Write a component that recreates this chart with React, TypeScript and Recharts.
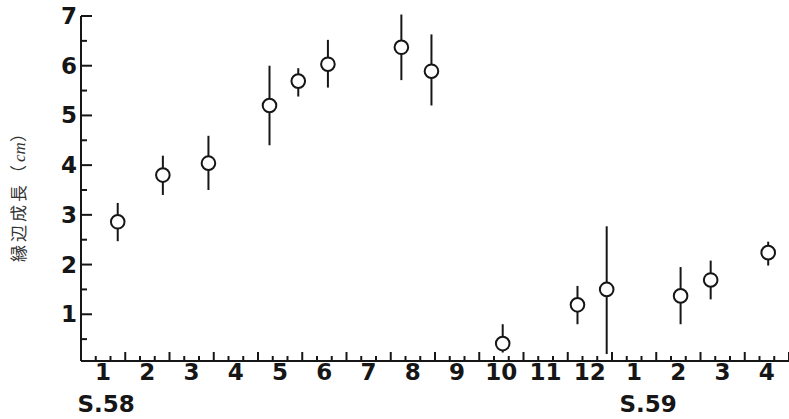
import React from 'react';
import { ScatterChart, Scatter, XAxis, YAxis, ErrorBar } from 'recharts';

// x position in months from start of Jan S.58 (0 = start of month "1")
const monthPos = [0.83, 1.85, 2.88, 4.26, 4.91, 5.58, 7.24, 7.92, 9.53, 11.22, 11.88, 13.55, 14.23, 15.53];
const meanVals = [2.86, 3.8, 4.04, 5.2, 5.69, 6.03, 6.37, 5.89, 0.41, 1.19, 1.5, 1.37, 1.69, 2.24];
const lowVals = [2.47, 3.4, 3.5, 4.4, 5.38, 5.56, 5.71, 5.2, 0.23, 0.8, 0.2, 0.8, 1.3, 1.98];
const highVals = [3.24, 4.19, 4.59, 6.0, 5.95, 6.52, 7.03, 6.63, 0.8, 1.57, 2.77, 1.95, 2.08, 2.46];

const monthLabels = ['1', '2', '3', '4', '5', '6', '7', '8', '9', '10', '11', '12', '1', '2', '3', '4'];
const eraLabels = [
  { month: 0, text: 'S.58', dx: 3 },
  { month: 12, text: 'S.59', dx: 14 },
];
const yTicks = [0.5, 1, 1.5, 2, 2.5, 3, 3.5, 4, 4.5, 5, 5.5, 6, 6.5, 7];

const data = monthPos.map((x, i) => ({
  x,
  y: meanVals[i],
  err: [meanVals[i] - lowVals[i], highVals[i] - meanVals[i]],
}));

// ticks: every third of a month (even sixths) and month centers (odd sixths)
const xTicks: number[] = [];
for (let k = 0; k <= monthLabels.length * 6; k++) {
  if (k % 2 === 0 || k % 6 === 3) xTicks.push(k / 6);
}

const INK = '#161616';
const FONT = '"DejaVu Sans", sans-serif';

const XTick = (props: any) => {
  const { x, y, payload } = props;
  const k = Math.round(payload.value * 6);
  if (k % 6 === 3) {
    const idx = (k - 3) / 6;
    const era = eraLabels.find((e) => e.month === idx);
    return (
      <g>
        <text x={x} y={y + 19} textAnchor="middle" fontFamily={FONT} fontWeight="bold" fontSize={23} fill={INK}>
          {monthLabels[idx]}
        </text>
        {era && (
          <text x={x + era.dx} y={y + 51} textAnchor="middle" fontFamily={FONT} fontWeight="bold" fontSize={23} fill={INK}>
            {era.text}
          </text>
        )}
      </g>
    );
  }
  const tall = k % 6 === 0;
  return <line x1={x} y1={y} x2={x} y2={y - (tall ? 9 : 5)} stroke={INK} strokeWidth={2} />;
};

const YTick = (props: any) => {
  const { x, y, payload } = props;
  const v = payload.value;
  const major = Number.isInteger(v);
  return (
    <g>
      <line x1={x} y1={y} x2={x + (major ? 11 : 6)} y2={y} stroke={INK} strokeWidth={2} />
      {major && (
        <text x={x - 4} y={y + 8} textAnchor="end" fontFamily={FONT} fontWeight="bold" fontSize={23} fill={INK}>
          {v}
        </text>
      )}
    </g>
  );
};

const Dot = (props: any) => {
  const { cx, cy } = props;
  return <circle cx={cx} cy={cy} r={6.8} fill="#fff" stroke={INK} strokeWidth={2} />;
};

export default function App() {
  return (
    <div style={{ position: 'absolute', left: 0, top: 0, width: 789, height: 419, background: '#fff' }}>
      <ScatterChart width={789} height={419} margin={{ top: 16, right: 0, bottom: 0, left: 0 }}>
        <XAxis
          type="number"
          dataKey="x"
          domain={[0, 16]}
          allowDataOverflow
          ticks={xTicks}
          interval={0}
          tickSize={0}
          tickMargin={0}
          tick={<XTick />}
          height={58}
          axisLine={{ stroke: INK, strokeWidth: 2 }}
          tickLine={false}
        />
        <YAxis
          type="number"
          dataKey="y"
          domain={[0.06, 7]}
          allowDataOverflow
          ticks={yTicks}
          interval={0}
          tickSize={0}
          tickMargin={0}
          tick={<YTick />}
          width={81}
          axisLine={{ stroke: INK, strokeWidth: 2 }}
          tickLine={false}
        />
        <Scatter data={data} isAnimationActive={false} shape={<Dot />}>
          <ErrorBar dataKey="err" direction="y" width={0} stroke={INK} strokeWidth={2} isAnimationActive={false} />
        </Scatter>
      </ScatterChart>
      <svg width={40} height={419} style={{ position: 'absolute', left: 0, top: 0 }}>
        <text
          transform="translate(25,192) rotate(-90)"
          textAnchor="middle"
          fontFamily='"Noto Sans CJK JP", sans-serif'
          fontSize={17}
          letterSpacing={3}
          fill="#333"
        >
          縁辺成長（<tspan fontStyle="italic" letterSpacing={0} fontFamily="'Liberation Serif', serif">cm</tspan>）
        </text>
      </svg>
    </div>
  );
}
